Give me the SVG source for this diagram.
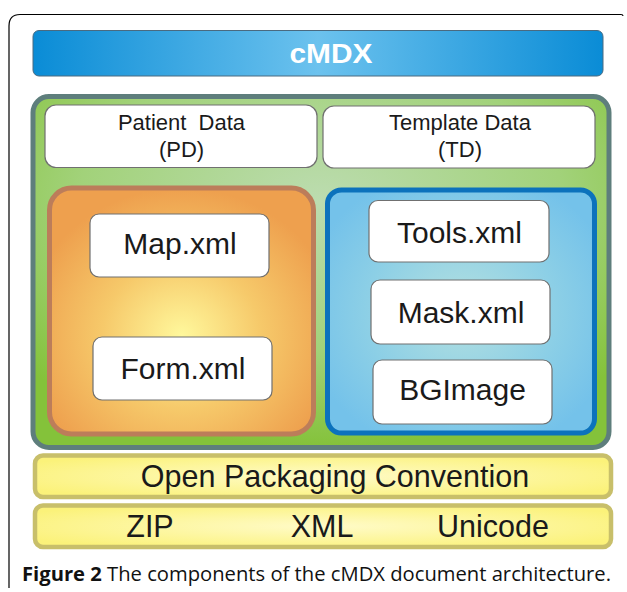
<svg xmlns="http://www.w3.org/2000/svg" width="627" height="592" viewBox="0 0 627 592">
<defs>
<linearGradient id="gBlue" x1="0" y1="0" x2="1" y2="0">
<stop offset="0" stop-color="#0a8cd6"/>
<stop offset="0.5" stop-color="#6cc2ee"/>
<stop offset="1" stop-color="#0a8cd6"/>
</linearGradient>
<radialGradient id="gGreen" cx="0.5" cy="0.3" r="0.7">
<stop offset="0" stop-color="#bcdcb0"/>
<stop offset="0.6" stop-color="#a2d27a"/>
<stop offset="1" stop-color="#84c23a"/>
</radialGradient>
<radialGradient id="gOrange" cx="0.5" cy="0.6" r="0.6">
<stop offset="0" stop-color="#fff89c"/>
<stop offset="0.5" stop-color="#f6c96a"/>
<stop offset="1" stop-color="#eea04e"/>
</radialGradient>
<radialGradient id="gLBlue" cx="0.5" cy="0.5" r="0.6">
<stop offset="0" stop-color="#b4e0e0"/>
<stop offset="0.6" stop-color="#8ccfe6"/>
<stop offset="1" stop-color="#74c2ea"/>
</radialGradient>
<radialGradient id="gYellow" cx="0.5" cy="0.5" r="0.6">
<stop offset="0" stop-color="#fffbc8"/>
<stop offset="1" stop-color="#fbf27a"/>
</radialGradient>
</defs>
<style>
.lbl{font-family:"Liberation Sans",Arial,sans-serif;fill:#1a1a1a;text-anchor:middle}
.box{fill:#ffffff;stroke:#707070;stroke-width:1.2}
.file{font-size:30px}
.hd{font-size:22px}
.big{font-size:30.5px}
.ybar{fill:url(#gYellow);stroke:#c8bf6a;stroke-width:4.5}
</style>
<path d="M9,588 V26 Q9,14.5 20,14.5 H621 Q623,14.5 623,16" fill="none" stroke="#000" stroke-width="1.2"/>
<g id="cmdx">
<rect x="33" y="30.5" width="570" height="45.5" rx="6" fill="url(#gBlue)" stroke="#4a6a80" stroke-width="1"/>
<text x="331" y="63" class="lbl" style="font-size:28px;font-weight:bold;fill:#ffffff" textLength="83" lengthAdjust="spacingAndGlyphs">cMDX</text>
</g>
<g id="container">
<rect x="33" y="96.5" width="576" height="351" rx="16" fill="url(#gGreen)" stroke="#5e7e7c" stroke-width="5"/>
</g>
<g id="pd">
<rect x="45" y="105" width="272" height="62.5" rx="11" class="box"/>
<text x="181.5" y="129.5" class="lbl hd" xml:space="preserve" style="white-space:pre">Patient  Data</text>
<text x="181.5" y="157" class="lbl hd">(PD)</text>
</g>
<g id="td">
<rect x="323" y="106" width="272" height="62" rx="11" class="box"/>
<text x="460" y="129.5" class="lbl hd">Template Data</text>
<text x="460" y="157" class="lbl hd">(TD)</text>
</g>
<g id="pdgroup">
<rect x="49.5" y="188" width="264" height="246" rx="22" fill="url(#gOrange)" stroke="#bc7d5a" stroke-width="5"/>
</g>
<g id="tdgroup">
<rect x="327.5" y="190" width="267" height="243" rx="14" fill="url(#gLBlue)" stroke="#0c72bc" stroke-width="5"/>
</g>
<g id="map">
<rect x="90" y="214" width="179" height="63" rx="9" class="box"/>
<text x="180" y="254" class="lbl file">Map.xml</text>
</g>
<g id="form">
<rect x="93" y="337" width="179" height="63" rx="9" class="box"/>
<text x="183" y="378.5" class="lbl file">Form.xml</text>
</g>
<g id="tools">
<rect x="369" y="200.5" width="180" height="61.5" rx="9" class="box"/>
<text x="459.5" y="242.5" class="lbl file">Tools.xml</text>
</g>
<g id="mask">
<rect x="371" y="280" width="179" height="64" rx="9" class="box"/>
<text x="461" y="322.5" class="lbl file">Mask.xml</text>
</g>
<g id="bgimage">
<rect x="373" y="360" width="179" height="64" rx="9" class="box"/>
<text x="462.5" y="400" class="lbl file">BGImage</text>
</g>
<g id="opc">
<rect x="35" y="455.5" width="576" height="41.5" rx="8" class="ybar"/>
<text x="335" y="486.5" class="lbl big">Open Packaging Convention</text>
</g>
<g id="base">
<rect x="35" y="505.5" width="576" height="41.5" rx="8" class="ybar"/>
<text x="150" y="536.5" class="lbl big">ZIP</text>
<text x="322" y="536.5" class="lbl big">XML</text>
<text x="493" y="536.5" class="lbl big">Unicode</text>
</g>
<text x="22" y="581" textLength="589" lengthAdjust="spacingAndGlyphs" style="font-family:'Open Sans','Noto Sans',sans-serif;font-size:20px;fill:#111"><tspan font-weight="bold">Figure 2</tspan> The components of the cMDX document architecture.</text>
</svg>
